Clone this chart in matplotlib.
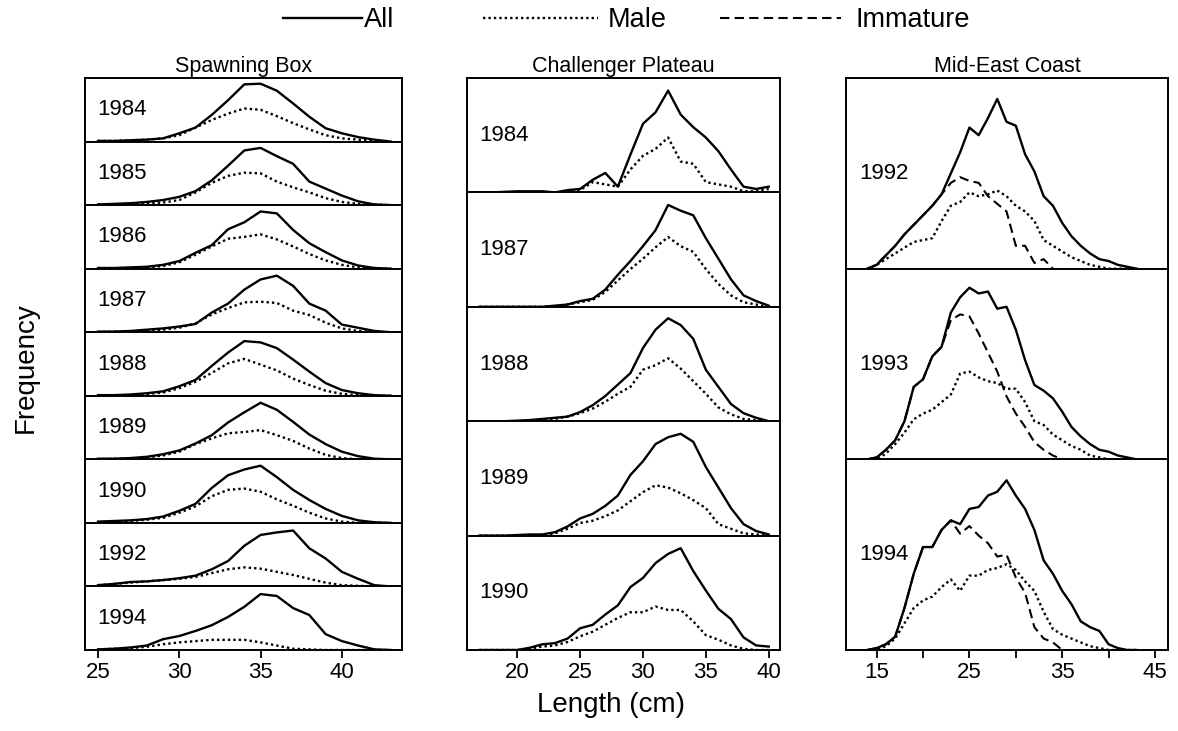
# Length frequency distributions by area and year
import numpy as np
import matplotlib
matplotlib.use("Agg")
import matplotlib.pyplot as plt
from matplotlib.lines import Line2D

plt.rcParams['font.family'] = ['Liberation Sans', 'DejaVu Sans']

nan = np.nan

# Spawning Box, lengths 25..43 cm
sb_length = list(range(25, 44))
sb_years = ['1984', '1985', '1986', '1987', '1988', '1989', '1990', '1992', '1994']
sb_all = [
    [0.01, 0.01, 0.02, 0.03, 0.05, 0.13, 0.22, 0.42, 0.65, 0.90, 0.91, 0.80, 0.60, 0.39, 0.21, 0.13, 0.07, 0.03, 0.0],
    [0.01, 0.02, 0.03, 0.05, 0.08, 0.13, 0.22, 0.39, 0.62, 0.86, 0.90, 0.77, 0.65, 0.37, 0.26, 0.15, 0.06, 0.01, 0.0],
    [0.01, 0.01, 0.02, 0.03, 0.06, 0.12, 0.25, 0.37, 0.62, 0.73, 0.90, 0.87, 0.61, 0.40, 0.26, 0.13, 0.05, 0.01, 0.0],
    [0.01, 0.01, 0.02, 0.04, 0.06, 0.09, 0.13, 0.31, 0.45, 0.67, 0.83, 0.89, 0.73, 0.45, 0.34, 0.12, 0.07, 0.02, 0.0],
    [0.01, 0.01, 0.02, 0.04, 0.07, 0.15, 0.25, 0.47, 0.68, 0.86, 0.84, 0.75, 0.57, 0.38, 0.20, 0.09, 0.04, 0.01, 0.0],
    [0.01, 0.01, 0.02, 0.04, 0.08, 0.14, 0.25, 0.38, 0.58, 0.74, 0.89, 0.78, 0.59, 0.39, 0.24, 0.12, 0.05, 0.01, 0.0],
    [0.02, 0.03, 0.04, 0.06, 0.10, 0.19, 0.30, 0.55, 0.75, 0.84, 0.90, 0.72, 0.52, 0.36, 0.22, 0.11, 0.04, 0.01, 0.0],
    [0.02, 0.04, 0.07, 0.08, 0.10, 0.13, 0.17, 0.27, 0.40, 0.64, 0.81, 0.85, 0.88, 0.60, 0.44, 0.23, 0.12, 0.02, 0.0],
    [0.01, 0.02, 0.04, 0.07, 0.17, 0.22, 0.30, 0.39, 0.52, 0.68, 0.88, 0.85, 0.66, 0.55, 0.25, 0.14, 0.07, 0.01, 0.0],
]
sb_male = [
    [0.01, 0.01, 0.02, 0.03, 0.05, 0.10, 0.22, 0.34, 0.44, 0.52, 0.50, 0.40, 0.29, 0.19, 0.10, 0.05, 0.03, 0.01, 0.0],
    [0.01, 0.01, 0.02, 0.03, 0.04, 0.08, 0.20, 0.35, 0.46, 0.51, 0.50, 0.37, 0.28, 0.20, 0.11, 0.05, 0.02, 0.01, 0.0],
    [0.01, 0.01, 0.01, 0.02, 0.04, 0.10, 0.22, 0.35, 0.47, 0.50, 0.54, 0.46, 0.35, 0.23, 0.13, 0.06, 0.02, 0.01, 0.0],
    [0.0, 0.01, 0.01, 0.02, 0.04, 0.07, 0.14, 0.28, 0.38, 0.47, 0.48, 0.46, 0.34, 0.27, 0.15, 0.06, 0.02, 0.0, 0.0],
    [0.0, 0.01, 0.01, 0.03, 0.05, 0.12, 0.22, 0.36, 0.51, 0.58, 0.49, 0.40, 0.27, 0.17, 0.08, 0.03, 0.01, 0.0, 0.0],
    [0.0, 0.01, 0.01, 0.03, 0.06, 0.12, 0.24, 0.33, 0.41, 0.43, 0.46, 0.38, 0.29, 0.17, 0.07, 0.02, 0.0, 0.0, 0.0],
    [0.01, 0.02, 0.03, 0.05, 0.08, 0.16, 0.26, 0.42, 0.52, 0.54, 0.49, 0.37, 0.27, 0.16, 0.07, 0.02, 0.0, 0.0, 0.0],
    [0.02, 0.04, 0.06, 0.08, 0.10, 0.12, 0.15, 0.21, 0.27, 0.30, 0.28, 0.23, 0.18, 0.12, 0.06, 0.02, 0.01, 0.0, 0.0],
    [0.01, 0.02, 0.03, 0.05, 0.09, 0.12, 0.14, 0.16, 0.16, 0.16, 0.12, 0.07, 0.02, 0.01, 0.0, 0.0, 0.0, 0.0, 0.0],
]

# Challenger Plateau, lengths 17..40 cm
cp_length = list(range(17, 41))
cp_years = ['1984', '1987', '1988', '1989', '1990']
cp_all = [
    [0, 0, 0.005, 0.01, 0.01, 0.01, 0.0, 0.02, 0.03, 0.11, 0.17, 0.05, 0.33, 0.60, 0.70, 0.89, 0.68, 0.57, 0.48, 0.36, 0.20, 0.05, 0.03, 0.05],
    [0, 0, 0, 0, 0, 0, 0.01, 0.02, 0.05, 0.07, 0.15, 0.28, 0.40, 0.53, 0.67, 0.89, 0.84, 0.80, 0.60, 0.42, 0.24, 0.10, 0.05, 0.01],
    [0, 0, 0, 0.005, 0.01, 0.02, 0.03, 0.04, 0.08, 0.14, 0.22, 0.32, 0.42, 0.64, 0.80, 0.90, 0.84, 0.72, 0.45, 0.30, 0.15, 0.07, 0.03, 0.0],
    [0, 0, 0, 0.005, 0.01, 0.01, 0.03, 0.08, 0.15, 0.19, 0.26, 0.35, 0.53, 0.65, 0.80, 0.86, 0.89, 0.82, 0.60, 0.42, 0.24, 0.10, 0.04, 0.01],
    [0, 0, 0, 0.0, 0.02, 0.05, 0.06, 0.10, 0.19, 0.22, 0.31, 0.39, 0.55, 0.63, 0.76, 0.84, 0.89, 0.69, 0.52, 0.36, 0.27, 0.11, 0.04, 0.03],
]
cp_male = [
    [0, 0, 0, 0, 0, 0, 0, 0.01, 0.02, 0.09, 0.07, 0.05, 0.20, 0.32, 0.38, 0.48, 0.27, 0.25, 0.09, 0.07, 0.05, 0.01, 0.01, 0.03],
    [0, 0, 0, 0, 0, 0, 0.005, 0.02, 0.04, 0.06, 0.13, 0.23, 0.33, 0.42, 0.52, 0.61, 0.53, 0.48, 0.33, 0.20, 0.10, 0.04, 0.02, 0.0],
    [0, 0, 0, 0, 0, 0.01, 0.02, 0.04, 0.07, 0.11, 0.17, 0.24, 0.30, 0.45, 0.49, 0.55, 0.46, 0.35, 0.24, 0.12, 0.06, 0.02, 0.01, 0.0],
    [0, 0, 0, 0, 0, 0.005, 0.02, 0.06, 0.11, 0.13, 0.17, 0.22, 0.30, 0.38, 0.44, 0.42, 0.37, 0.31, 0.24, 0.10, 0.06, 0.02, 0.01, 0.0],
    [0, 0, 0, 0, 0.01, 0.03, 0.04, 0.07, 0.12, 0.16, 0.22, 0.28, 0.33, 0.33, 0.38, 0.35, 0.35, 0.25, 0.13, 0.09, 0.04, 0.01, 0.0, 0.0],
]

# Mid-East Coast, lengths 14..43 cm
me_length = list(range(14, 44))
me_years = ['1992', '1993', '1994']
me_all = [
    [0, 0.02, 0.07, 0.12, 0.18, 0.23, 0.28, 0.33, 0.39, 0.50, 0.61, 0.74, 0.70, 0.79, 0.89, 0.77, 0.75, 0.60, 0.51, 0.38, 0.33, 0.24, 0.17, 0.12, 0.08, 0.05, 0.04, 0.02, 0.01, 0],
    [0, 0.01, 0.05, 0.10, 0.20, 0.38, 0.42, 0.54, 0.59, 0.77, 0.85, 0.90, 0.87, 0.88, 0.79, 0.80, 0.68, 0.52, 0.39, 0.36, 0.32, 0.25, 0.17, 0.12, 0.08, 0.05, 0.04, 0.02, 0.01, 0],
    [0, 0.01, 0.03, 0.07, 0.22, 0.40, 0.54, 0.54, 0.63, 0.68, 0.66, 0.74, 0.75, 0.81, 0.83, 0.89, 0.81, 0.74, 0.63, 0.47, 0.40, 0.31, 0.24, 0.15, 0.12, 0.10, 0.03, 0.01, 0, 0],
]
me_male = [
    [0, 0.02, 0.05, 0.08, 0.11, 0.14, 0.15, 0.16, 0.25, 0.33, 0.35, 0.40, 0.38, 0.39, 0.41, 0.38, 0.33, 0.30, 0.25, 0.15, 0.12, 0.09, 0.06, 0.04, 0.02, 0.01, 0, 0, 0, 0],
    [0, 0, 0.03, 0.08, 0.14, 0.21, 0.24, 0.26, 0.30, 0.34, 0.45, 0.46, 0.43, 0.41, 0.40, 0.37, 0.37, 0.30, 0.20, 0.18, 0.13, 0.10, 0.07, 0.05, 0.02, 0.01, 0, 0, 0, 0],
    [0, 0, 0.02, 0.06, 0.14, 0.22, 0.26, 0.28, 0.33, 0.37, 0.31, 0.39, 0.39, 0.42, 0.43, 0.45, 0.42, 0.36, 0.31, 0.20, 0.11, 0.08, 0.06, 0.04, 0.02, 0.01, 0, 0, 0, 0],
]
me_immature = [
    [0, 0.02, 0.07, 0.12, 0.18, 0.23, 0.28, 0.33, 0.39, 0.45, 0.48, 0.46, 0.45, 0.38, 0.34, 0.30, 0.12, 0.12, 0.03, 0.05, 0, nan, nan, nan, nan, nan, nan, nan, nan, nan],
    [0, 0.01, 0.05, 0.10, 0.20, 0.38, 0.42, 0.54, 0.59, 0.73, 0.76, 0.75, 0.66, 0.56, 0.46, 0.33, 0.24, 0.17, 0.09, 0.05, 0.02, 0, nan, nan, nan, nan, nan, nan, nan, nan],
    [0, 0.01, 0.03, 0.07, 0.22, 0.40, 0.54, 0.54, 0.63, 0.68, 0.61, 0.65, 0.60, 0.56, 0.49, 0.50, 0.38, 0.30, 0.12, 0.06, 0.04, 0, nan, nan, nan, nan, nan, nan, nan, nan],
]

W, H = 1178, 731
fig = plt.figure(figsize=(W / 100, H / 100), dpi=100)

solid = dict(color='black', lw=1.7, ls='-')
dotted = dict(color='black', lw=1.7, ls=(0, (1, 1.3)))
dashed = dict(color='black', lw=1.5, ls=(0, (4.5, 2.5)))

columns = [
    # title, years, lengths, all, male, immature, xlim, ticks, minor, x0, x1
    ('Spawning Box', sb_years, sb_length, sb_all, sb_male, None, (24.2, 43.7), [25, 30, 35, 40], [], 85, 402),
    ('Challenger Plateau', cp_years, cp_length, cp_all, cp_male, None, (16.0, 40.9), [20, 25, 30, 35, 40], [], 467, 780),
    ('Mid-East Coast', me_years, me_length, me_all, me_male, me_immature, (11.7, 46.4), [15, 25, 35, 45], [20, 30, 40], 846, 1168),
]

top, bottom = 1 - 78 / H, 1 - 650 / H
for title, years, length, allv, male, imm, xlim, ticks, minor, x0, x1 in columns:
    gs = fig.add_gridspec(len(years), 1, left=x0 / W, right=x1 / W, top=top, bottom=bottom, hspace=0)
    for i, yr in enumerate(years):
        ax = fig.add_subplot(gs[i, 0])
        ax.plot(length, allv[i], **solid)
        ax.plot(length, male[i], **dotted)
        if imm is not None:
            ax.plot(length, imm[i], **dashed)
        ax.set_xlim(*xlim)
        ax.set_ylim(0, 1)
        ax.set_yticks([])
        ax.text(0.04, 0.5, yr, transform=ax.transAxes, fontsize=16, va='center', ha='left')
        for s in ax.spines.values():
            s.set_linewidth(1.4)
        if i == 0:
            ax.set_title(title, fontsize=15.5, pad=4)
        if i == len(years) - 1:
            ax.set_xticks(ticks)
            ax.set_xticks(minor, minor=True)
            ax.tick_params(axis='x', which='both', direction='out', length=6, width=1.3, labelsize=16, pad=3)
        else:
            ax.set_xticks([])

fig.text(26 / W, 1 - 368 / H, 'Frequency', rotation=90, fontsize=20, ha='center', va='center')
fig.text(611 / W, 1 - 705 / H, 'Length (cm)', fontsize=20, ha='center', va='center')

# legend across the top, one entry per block
legend_items = [
    (Line2D([], [], **solid), 'All', 283, 2.9, 0.1),
    (Line2D([], [], **dotted), 'Male', 483, 4.25, 0.35),
    (Line2D([], [], **dashed), 'Immature', 720, 4.45, 0.55),
]
for handle, label, xpos, hlen, tpad in legend_items:
    fig.legend([handle], [label], loc='center left', bbox_to_anchor=(xpos / W, 1 - 20 / H),
               frameon=False, fontsize=19.5, handlelength=hlen, handletextpad=tpad,
               borderpad=0, borderaxespad=0)

fig.savefig('out.png', dpi=100)
